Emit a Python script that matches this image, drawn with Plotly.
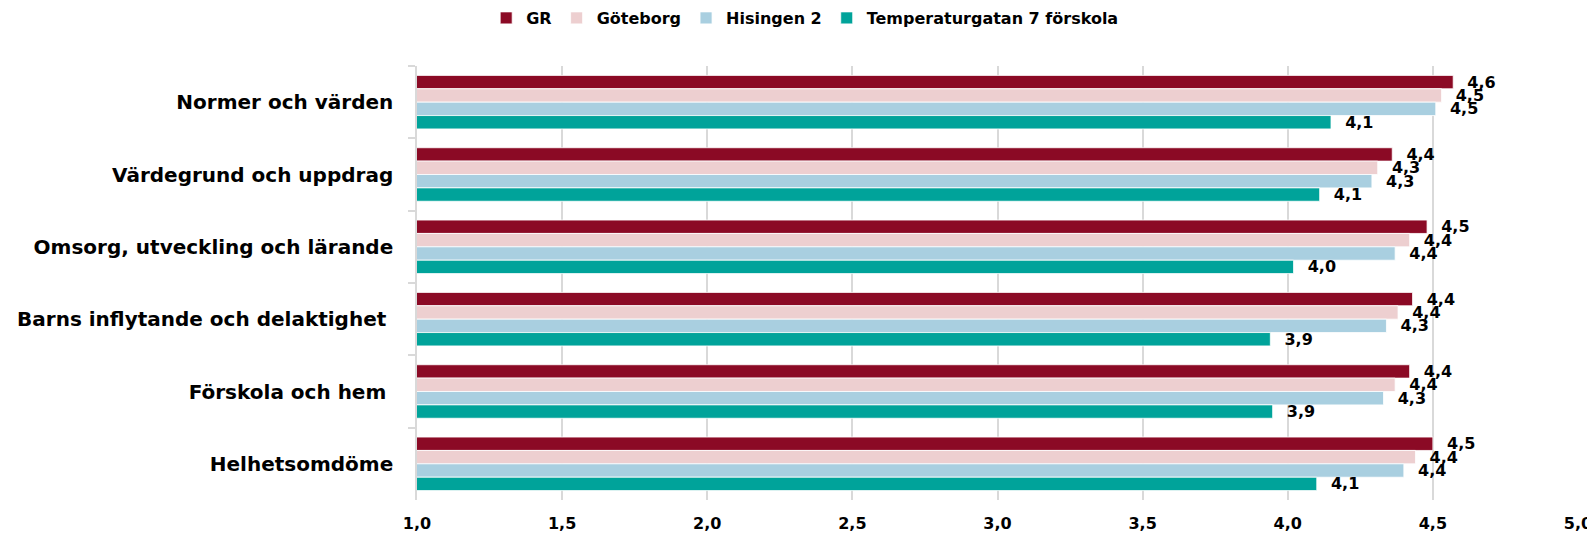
import plotly.graph_objects as go

categories = [
    "Normer och värden",
    "Värdegrund och uppdrag",
    "Omsorg, utveckling och lärande",
    "Barns inflytande och delaktighet\u00a0",
    "Förskola och hem\u00a0",
    "Helhetsomdöme",
]
series_names = ["GR", "Göteborg", "Hisingen 2", "Temperaturgatan 7 förskola"]
gr = [4.57, 4.36, 4.48, 4.43, 4.42, 4.50]
goteborg = [4.53, 4.31, 4.42, 4.38, 4.37, 4.44]
hisingen = [4.51, 4.29, 4.37, 4.34, 4.33, 4.40]
temperatur = [4.149, 4.11, 4.02, 3.94, 3.948, 4.10]
colors = ["#8B0A25", "#EDCFD0", "#A9CFE0", "#00A39A"]

FONT = "DejaVu Sans"

fig = go.Figure()
for name, vals, col in zip(series_names, [gr, goteborg, hisingen, temperatur], colors):
    fig.add_trace(go.Bar(
        y=categories, x=vals, name=name, orientation="h",
        marker=dict(color=col, line=dict(color="white", width=0.8)),
        text=vals, texttemplate="\u00a0\u00a0%{x:.1f}", textposition="outside",
        constraintext="none", cliponaxis=False,
        textfont=dict(family=FONT, size=16, color="#000000", weight="bold"),
    ))

# page body has an 8px default margin; figure sized so it ends at window edge
fig.update_layout(
    barmode="group", bargap=0.26, bargroupgap=0,
    width=1587, height=525,
    margin=dict(l=409, r=17, t=58, b=33, autoexpand=False),
    plot_bgcolor="white", paper_bgcolor="white",
    separators=", ",
    font=dict(family=FONT, color="#000000"),
    legend=dict(orientation="h", xref="container", yref="container",
                x=0.502, y=0.981, xanchor="center", yanchor="middle",
                font=dict(family=FONT, size=16, weight="bold"),
                traceorder="normal"),
    xaxis=dict(range=[1, 5], dtick=0.5, tick0=1, tickformat=".1f",
               showgrid=True, gridcolor="#d9d9d9", gridwidth=1.5,
               zeroline=False, showline=False, ticks="", automargin=False,
               ticklabelstandoff=12,
               tickfont=dict(family=FONT, size=16, weight="bold")),
    yaxis=dict(autorange="reversed", showline=True, linecolor="#d9d9d9", linewidth=1.5,
               ticks="outside", tickson="boundaries", ticklen=7, tickcolor="#d9d9d9",
               tickwidth=1.5, ticklabelstandoff=18, automargin=False,
               tickfont=dict(family=FONT, size=20, weight="bold")),
)

fig.write_html("out.html")
